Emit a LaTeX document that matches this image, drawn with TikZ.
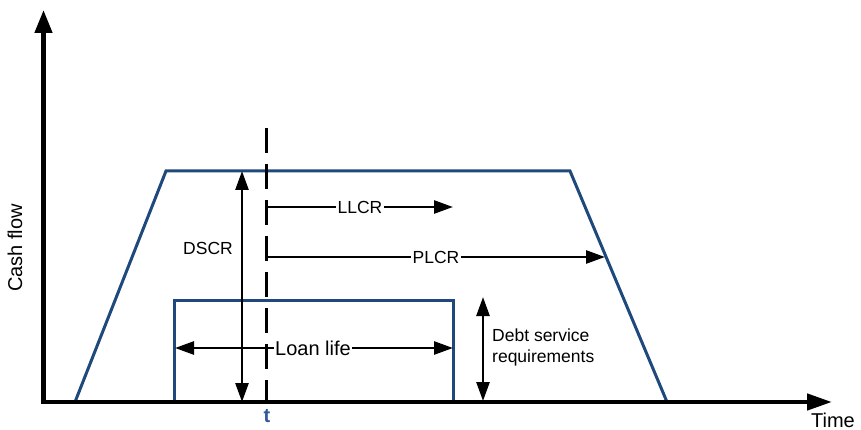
\documentclass[tikz,border=0pt]{standalone}
\usepackage{fontspec}
\setmainfont{Liberation Sans}
\usetikzlibrary{arrows.meta}
\definecolor{curveblue}{RGB}{31,73,125}
\definecolor{tblue}{RGB}{47,88,160}
\begin{document}
\begin{tikzpicture}[x=1pt,y=-1pt,
  axis/.style={line width=4.5pt, line join=miter,
    {Triangle[length=23pt,width=17pt]}-{Triangle[length=25pt,width=16pt]}},
  profile/.style={curveblue, line width=3pt, line join=miter},
  dim/.style={line width=2.6pt, -{Triangle[length=19pt,width=13pt]}},
  dimboth/.style={line width=2.6pt,
    {Triangle[length=19pt,width=13pt]}-{Triangle[length=19pt,width=13pt]}},
  lbl/.style={font=\fontsize{17.5}{21}\selectfont, inner sep=1pt},
  big/.style={font=\fontsize{20}{24}\selectfont, inner sep=1pt},
  tag/.style={lbl, fill=white, inner sep=1.5pt},
  marker/.style={line width=3pt, dash pattern=on 25pt off 11pt}]
\useasboundingbox (0,0) rectangle (861,430);

% reference points
\coordinate (ytop) at (43.5,10);
\coordinate (O) at (43.5,402);
\coordinate (xend) at (832,402);
\coordinate (ttop) at (266,128);
\coordinate (tbot) at (266,402);

% cash-flow profile and debt service block
\draw[profile] (75,402) -- (166,171) -- (570,171) -- (667,402);
\draw[profile] (174,402) -- (174,300) -- (453,300) -- (453,402);

% time marker t
\draw[marker] (ttop) -- (tbot);
\node[big, font=\fontsize{20}{24}\selectfont\bfseries, text=tblue, anchor=base] (tlab) at (267,422) {t};

% DSCR
\coordinate (dscrTop) at (242,171);
\coordinate (dscrBot) at (242,402);
\draw[dimboth] (dscrTop) -- (dscrBot);
\node[lbl] (dscr) at (208,248) {DSCR};

% LLCR
\coordinate (llcrA) at (266,207);
\coordinate (llcrB) at (453,207);
\draw[dim] (llcrA) -- (llcrB);
\node[tag] (llcr) at (360,207) {LLCR};

% PLCR
\coordinate (plcrA) at (266,257);
\coordinate (plcrB) at (605,257);
\draw[dim] (plcrA) -- (plcrB);
\node[tag] (plcr) at (436,257) {PLCR};

% loan life
\coordinate (loanA) at (175,348);
\coordinate (loanB) at (453,348);
\draw[dimboth] (loanA) -- (loanB);
\node[big, fill=white, inner sep=1.5pt] (loan) at (313,348) {Loan life};

% debt service requirements
\coordinate (dsTop) at (483,297);
\coordinate (dsBot) at (483,401);
\draw[dimboth] (dsTop) -- (dsBot);
\node[lbl, anchor=west, align=left] (ds) at (491,347) {Debt service\\requirements};

% axes
\draw[axis] (ytop) -- (O) -- (xend);
\node[big, rotate=90, anchor=base] (ylab) at (22,248) {Cash flow};
\node[big, anchor=base] (xlab) at (833,427) {Time};
\end{tikzpicture}
\end{document}
